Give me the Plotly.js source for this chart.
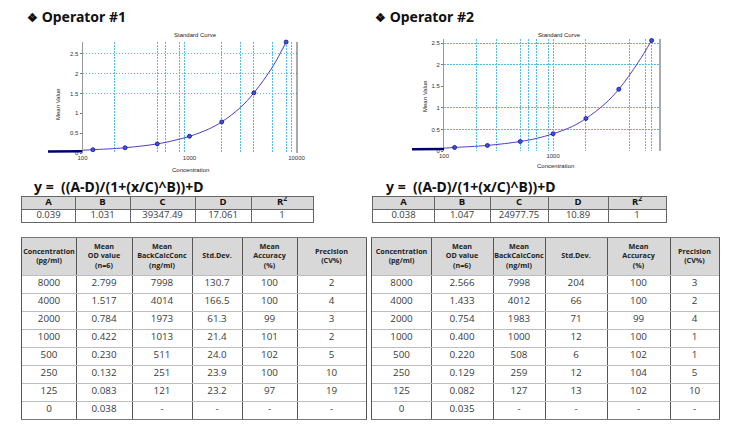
<!DOCTYPE html>
<html>
<head>
<meta charset="utf-8">
<script src="https://cdn.plot.ly/plotly-3.0.1.min.js"></script>
<style>
  body { margin: 0; background: #fff; }
  #chart { width: 732px; height: 429px; }
</style>
</head>
<body>
<div id="chart"></div>
<script>
// standards and results for both operators
const concLabels = ['8000', '4000', '2000', '1000', '500', '250', '125', '0'];
const od1 = ['2.799', '1.517', '0.784', '0.422', '0.230', '0.132', '0.083', '0.038'];
const back1 = ['7998', '4014', '1973', '1013', '511', '251', '121', '-'];
const sd1 = ['130.7', '166.5', '61.3', '21.4', '24.0', '23.9', '23.2', '-'];
const acc1 = ['100', '100', '99', '101', '102', '100', '97', '-'];
const cv1 = ['2', '4', '3', '2', '5', '10', '19', '-'];

const od2 = ['2.566', '1.433', '0.754', '0.400', '0.220', '0.129', '0.082', '0.035'];
const back2 = ['7998', '4012', '1983', '1000', '508', '259', '127', '-'];
const sd2 = ['204', '66', '71', '12', '6', '12', '13', '-'];
const acc2 = ['100', '100', '99', '100', '102', '104', '102', '-'];
const cv2 = ['3', '2', '4', '1', '1', '5', '10', '-'];

const headerLabels = ['Concentration<br>(pg/ml)', 'Mean<br>OD value<br>(n=6)', 'Mean<br>BackCalcConc<br>(ng/ml)',
                      'Std.Dev.', 'Mean<br>Accuracy<br>(%)', 'Precision<br>(CV%)'];
const paramNames = ['A', 'B', 'C', 'D', 'R<sup>2</sup>'];
const params1 = ['0.039', '1.031', '39347.49', '17.061', '1'];
const params2 = ['0.038', '1.047', '24977.75', '10.89', '1'];

// fitted curves
const curveX = [100, 125, 250, 500, 700, 1000, 1500, 2000, 3000, 4000, 6000, 8000];
const curve1Y = [0.07, 0.083, 0.132, 0.23, 0.31, 0.42, 0.6, 0.784, 1.15, 1.517, 2.18, 2.799];
const curve2Y = [0.065, 0.082, 0.129, 0.22, 0.29, 0.40, 0.57, 0.754, 1.1, 1.433, 2.05, 2.566];
const blankX = [45, 100];
const blank1Y = [0.04, 0.045];
const blank2Y = [0.04, 0.045];

const xTicks = [100, 1000, 10000];
const yTicks = [0, 0.5, 1, 1.5, 2, 2.5];
const grid1X = [200, 500, 600, 800, 900, 2000, 3000, 4000, 6000, 8000, 9000];
const grid2X = [200, 300, 500, 600, 700, 900, 1000, 2000, 5000, 7000, 8000];
const grid1Y = [1.5, 2, 2.5];
const grid2Y = [0.5, 1, 2, 2.5];

const W = 732, H = 429;
const px = v => v / W;
const py = v => 1 - v / H;
const tickFont = { family: 'Liberation Sans, Arial', size: 6, color: '#333' };
const gridCol = '#55bde0';
const gridDash = '1.5px,1.5px';

const data = [];
const shapes = [];
const annotations = [];

const layout = {
  width: W, height: H,
  margin: { l: 0, r: 0, t: 0, b: 0 },
  paper_bgcolor: '#fff',
  plot_bgcolor: 'rgba(0,0,0,0)',
  showlegend: false,
  font: { family: 'Liberation Sans, Arial', size: 6, color: '#333' },
  shapes: shapes,
  annotations: annotations
};

// ---- standard curve plots ----
function curvePlot(n, stub, left, yAxisPx, right, top, bottom, xRange, yMax, gridX, gridY, od, curveY, blankY) {
  const xs = concLabels.slice(0, 7).map(Number);
  const ys = od.slice(0, 7).map(Number);

  layout['xaxis' + n] = {
    type: 'log', domain: [px(yAxisPx), px(right)], range: [2, xRange[1]], anchor: 'y' + n,
    tickmode: 'array', tickvals: xTicks, ticktext: xTicks.map(String), tickfont: tickFont,
    showgrid: false, zeroline: false, ticks: '', showline: false,
    minor: { tickmode: 'array', tickvals: gridX, showgrid: true, gridcolor: gridCol, griddash: gridDash, gridwidth: 1, ticks: '' }
  };
  layout['yaxis' + n] = {
    domain: [py(bottom), py(top)], range: [0, yMax], anchor: 'x' + n,
    tickmode: 'array', tickvals: yTicks, ticktext: yTicks.map(String), tickfont: tickFont,
    showgrid: false, zeroline: false, ticks: 'outside', ticklen: 2, tickcolor: '#777',
    showline: true, linecolor: '#999', linewidth: 1,
    minor: { tickmode: 'array', tickvals: gridY, showgrid: true, gridcolor: gridCol, griddash: gridDash, gridwidth: 1, ticks: '' }
  };
  // left stub where the blank is drawn
  layout['xaxis' + stub] = { type: 'log', domain: [px(left), px(yAxisPx)], range: [xRange[0], 2], anchor: 'y' + stub, visible: false };
  layout['yaxis' + stub] = { domain: [py(bottom), py(top)], range: [0, yMax], anchor: 'x' + stub, visible: false };

  data.push({
    type: 'scatter', mode: 'lines', x: blankX, y: blankY, xaxis: 'x' + stub, yaxis: 'y' + stub,
    line: { color: '#000070', width: 2.5 }, hoverinfo: 'skip'
  });
  data.push({
    type: 'scatter', mode: 'lines', x: curveX, y: curveY, xaxis: 'x' + n, yaxis: 'y' + n,
    line: { color: '#4a3fc4', width: 1, shape: 'spline' }, hoverinfo: 'skip'
  });
  data.push({
    type: 'scatter', mode: 'markers', x: xs, y: ys, xaxis: 'x' + n, yaxis: 'y' + n, cliponaxis: false,
    marker: { size: 4, color: '#3a55e0', line: { color: '#101080', width: 0.8 } }
  });
  shapes.push({
    type: 'line', xref: 'x' + n + ' domain', yref: 'y' + n + ' domain', x0: 1, x1: 1, y0: 0, y1: 1,
    line: { color: '#555', width: 1 }
  });
}

curvePlot('', '3', 48, 82.5, 297, 42, 153, [1.678, 4.005], 2.8, grid1X, grid1Y, od1, curve1Y, blank1Y);
curvePlot('2', '4', 412, 444, 660, 39, 151, [1.706, 3.98], 2.6, grid2X, grid2Y, od2, curve2Y, blank2Y);

function note(text, x, y, size, opts) {
  annotations.push(Object.assign({
    text: text, x: px(x), y: py(y), xref: 'paper', yref: 'paper', showarrow: false,
    xanchor: 'center', yanchor: 'middle',
    font: { family: 'Liberation Sans, Arial', size: size, color: '#222' }
  }, opts || {}));
}

note('Standard Curve', 195, 35, 6);
note('Standard Curve', 559, 35, 6);
note('Concentration', 190, 170, 6);
note('Concentration', 555, 166, 6);
note('Mean Value', 58, 104, 6, { textangle: -90 });
note('Mean Value', 425, 96, 6, { textangle: -90 });

const bigFont = { family: 'Noto Sans, Open Sans', size: 14, color: '#111', weight: 'bold' };
const glyph = '<span style="font-size:12px">❖</span>';
note('<b>' + glyph + ' Operator #1</b>', 25, 17, 14, { xanchor: 'left', font: bigFont });
note('<b>' + glyph + ' Operator #2</b>', 373, 17, 14, { xanchor: 'left', font: bigFont });
const fFont = { family: 'Noto Sans, Open Sans', size: 14, color: '#111' };
note('<b>y =  ((A-D)/(1+(x/C)^B))+D</b>', 32, 186, 14, { xanchor: 'left', font: fFont });
note('<b>y =  ((A-D)/(1+(x/C)^B))+D</b>', 384, 186, 14, { xanchor: 'left', font: fFont });

// ---- tables drawn on their own axes, one unit = one pixel ----
function cum(arr) {
  const out = [0];
  arr.forEach(v => out.push(out[out.length - 1] + v));
  return out;
}

function table(n, left, top, colW, rowH, header, columns, opt) {
  const xb = cum(colW), yb = cum(rowH);
  const w = xb[xb.length - 1], h = yb[yb.length - 1];
  layout['xaxis' + n] = {
    domain: [px(left), px(left + w)], range: [0, w], anchor: 'y' + n,
    tickmode: 'array', tickvals: xb.slice(1, -1), showticklabels: false, ticks: '',
    showgrid: true, gridcolor: opt.vCol, gridwidth: 1, zeroline: false,
    showline: true, mirror: true, linecolor: opt.outCol, linewidth: 1, fixedrange: true
  };
  layout['yaxis' + n] = {
    domain: [py(top + h), py(top)], range: [h, 0], anchor: 'x' + n,
    tickmode: 'array', tickvals: yb.slice(1, -1), showticklabels: false, ticks: '',
    showgrid: true, gridcolor: opt.hCol, gridwidth: 1, zeroline: false,
    showline: true, mirror: true, linecolor: opt.vCol, linewidth: 1, fixedrange: true
  };
  shapes.push({
    type: 'rect', xref: 'x' + n, yref: 'y' + n, x0: 0, x1: w, y0: 0, y1: rowH[0],
    fillcolor: '#d8d8d8', line: { width: 0 }, layer: 'below'
  });
  const cx = colW.map((v, i) => xb[i] + v / 2);
  data.push({
    type: 'scatter', mode: 'text', xaxis: 'x' + n, yaxis: 'y' + n, cliponaxis: false,
    x: cx, y: cx.map(() => rowH[0] / 2), text: header, hoverinfo: 'skip',
    textfont: opt.headFont
  });
  const tx = [], ty = [], tt = [];
  columns.forEach((col, c) => {
    col.forEach((v, r) => {
      tx.push(cx[c]);
      ty.push(yb[r + 1] + rowH[r + 1] / 2);
      tt.push(v);
    });
  });
  data.push({
    type: 'scatter', mode: 'text', xaxis: 'x' + n, yaxis: 'y' + n, cliponaxis: false,
    x: tx, y: ty, text: tt, hoverinfo: 'skip', textfont: opt.cellFont
  });
}

const paramOpt = {
  vCol: '#666', hCol: '#666', outCol: '#666',
  headFont: { family: 'Open Sans, Noto Sans', size: 9.5, color: '#111', weight: 'bold' },
  cellFont: { family: 'Open Sans, Noto Sans', size: 9.5, color: '#3a3a3a' }
};
const bigOpt = {
  vCol: '#555', hCol: '#bdbdbd', outCol: '#777',
  headFont: { family: 'Open Sans, Noto Sans', size: 7.2, color: '#222', weight: 'bold' },
  cellFont: { family: 'Open Sans, Noto Sans', size: 9.8, color: '#3a3a3a' }
};
const bigRows = [37, 18, 18, 18, 18, 18, 18, 18, 18];

table('5', 22, 197, [53, 55, 65, 56, 62], [12, 13], paramNames, params1.map(v => [v]), paramOpt);
table('6', 373, 197, [61, 56, 58, 60, 58], [12, 13], paramNames, params2.map(v => [v]), paramOpt);
table('7', 22, 238, [54, 56, 60, 50, 55, 69], bigRows, headerLabels,
      [concLabels, od1, back1, sd1, acc1, cv1], bigOpt);
table('8', 372, 238, [59, 62, 52, 62, 63, 49], bigRows, headerLabels,
      [concLabels, od2, back2, sd2, acc2, cv2], bigOpt);

Plotly.newPlot('chart', data, layout, { staticPlot: true });
</script>
</body>
</html>
